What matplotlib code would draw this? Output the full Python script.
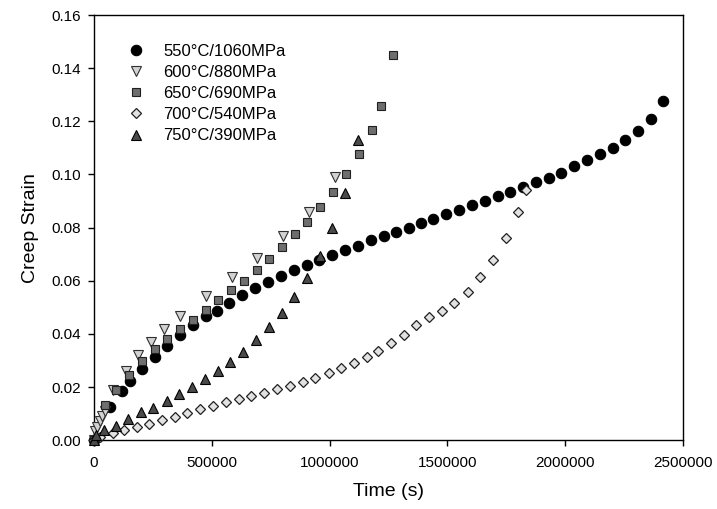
import matplotlib
matplotlib.use('Agg')
import matplotlib.pyplot as plt
import numpy as np
from matplotlib.ticker import FormatStrFormatter

plt.rcParams['font.family'] = ['Liberation Sans', 'DejaVu Sans']

# 550C / 1060MPa
t_550 = [0, 68000, 120000, 153000, 202600, 258000, 311000, 365000, 420500, 474000,
         521000, 575000, 629000, 682500, 740600, 794000, 849000, 903500, 957000, 1012000,
         1066000, 1120000, 1175000, 1229000, 1283000, 1336000, 1389000, 1441000, 1495000,
         1550000, 1604000, 1658000, 1713000, 1767000, 1821000, 1876000, 1930000, 1984000,
         2039000, 2093000, 2146000, 2201000, 2254000, 2308000, 2363000, 2417000]
e_550 = [0.0, 0.0126, 0.0187, 0.0224, 0.0268, 0.0315, 0.0356, 0.0397, 0.0432, 0.0466,
         0.0488, 0.0518, 0.0546, 0.0574, 0.0595, 0.0618, 0.0640, 0.0660, 0.0679, 0.0697,
         0.0717, 0.0732, 0.0752, 0.0767, 0.0785, 0.0800, 0.0817, 0.0833, 0.0850,
         0.0865, 0.0884, 0.0900, 0.0918, 0.0934, 0.0954, 0.0971, 0.0988, 0.1004,
         0.1031, 0.1053, 0.1077, 0.1100, 0.1129, 0.1164, 0.1209, 0.1277]

# 600C / 880MPa
t_600 = [0, 4000, 14000, 25500, 35000, 45000, 82000, 134700, 188000, 242000, 297000,
         365000, 474500, 585000, 692000, 804000, 913000, 1022000]
e_600 = [0.0, 0.0036, 0.0051, 0.0074, 0.0092, 0.0111, 0.0189, 0.0259, 0.0322, 0.0371, 0.0417,
         0.0469, 0.0542, 0.0614, 0.0686, 0.0768, 0.0860, 0.0990]

# 650C / 690MPa
t_650 = [0, 45500, 93500, 148700, 202600, 258000, 311000, 365000, 419000, 474500,
         528000, 581000, 637000, 691000, 745000, 800000, 852500, 906000, 960000,
         1015000, 1070000, 1127000, 1178000, 1218000, 1271000]
e_650 = [0.0, 0.0134, 0.0189, 0.0247, 0.0297, 0.0342, 0.0380, 0.0419, 0.0453, 0.0491,
         0.0526, 0.0564, 0.0601, 0.0642, 0.0683, 0.0727, 0.0775, 0.0823, 0.0878,
         0.0936, 0.1001, 0.1076, 0.1169, 0.1257, 0.1450]

# 700C / 540MPa
t_700 = [0, 25500, 79400, 127400, 181400, 235000, 289000, 344000, 397000, 451000,
         504000, 561000, 615000, 668000, 723000, 777000, 833000, 887000, 940000, 997000,
         1050000, 1103000, 1160000, 1206000, 1262000, 1314000, 1368000, 1423000, 1477000,
         1529000, 1586000, 1640000, 1695000, 1748000, 1798000, 1832000]
e_700 = [0.0, 0.0013, 0.0026, 0.0038, 0.0050, 0.0061, 0.0076, 0.0089, 0.0103, 0.0116,
         0.0130, 0.0145, 0.0156, 0.0168, 0.0179, 0.0192, 0.0204, 0.0221, 0.0236, 0.0252,
         0.0271, 0.0291, 0.0312, 0.0337, 0.0365, 0.0397, 0.0434, 0.0465, 0.0486,
         0.0516, 0.0559, 0.0615, 0.0680, 0.0760, 0.0860, 0.0943]

# 750C / 390MPa
t_750 = [0, 8500, 42500, 93500, 145700, 198400, 252000, 308800, 360000, 416000, 470700,
         525500, 579000, 634000, 688000, 742000, 797000, 849600, 904000, 960000,
         1012000, 1066000, 1120000]
e_750 = [0.0, 0.0021, 0.0038, 0.0055, 0.0080, 0.0105, 0.0121, 0.0146, 0.0174, 0.0199, 0.0229,
         0.0259, 0.0294, 0.0334, 0.0377, 0.0425, 0.0478, 0.0538, 0.0610, 0.0694,
         0.0799, 0.0929, 0.1129]

fig = plt.figure(figsize=(7.17, 5.09), dpi=100)
ax = fig.add_axes([0.131, 0.135, 0.8216, 0.8355])

ax.plot(t_550, e_550, 'o', ms=7.5, mfc='black', mec='black', mew=0.8, ls='none',
        label='550\u00b0C/1060MPa', clip_on=False, zorder=3)
ax.plot(t_600, e_600, 'v', ms=7, mfc='#d2d2d2', mec='#303030', mew=0.8, ls='none',
        label='600\u00b0C/880MPa', clip_on=False, zorder=3)
ax.plot(t_650, e_650, 's', ms=6, mfc='#6e6e6e', mec='#202020', mew=0.8, ls='none',
        label='650\u00b0C/690MPa', clip_on=False, zorder=3)
ax.plot(t_700, e_700, 'D', ms=5.5, mfc='#e2e2e2', mec='#202020', mew=0.9, ls='none',
        label='700\u00b0C/540MPa', clip_on=False, zorder=3)
ax.plot(t_750, e_750, '^', ms=7.5, mfc='#4a4a4a', mec='black', mew=0.8, ls='none',
        label='750\u00b0C/390MPa', clip_on=False, zorder=3)

ax.set_xlim(0, 2500000)
ax.set_ylim(0, 0.16)
ax.set_xticks(np.arange(0, 2500001, 500000))
ax.set_yticks(np.arange(0, 0.161, 0.02))
ax.yaxis.set_major_formatter(FormatStrFormatter('%.2f'))
ax.xaxis.set_major_formatter(FormatStrFormatter('%d'))
ax.tick_params(direction='out', length=4.5, width=1, labelsize=11)
ax.tick_params(axis='x', pad=7)
ax.tick_params(axis='y', pad=5)
for s in ax.spines.values():
    s.set_linewidth(1)

ax.set_xlabel('Time (s)', fontsize=14, labelpad=9)
ax.set_ylabel('Creep Strain', fontsize=14, labelpad=9)

ax.legend(loc='upper left', frameon=False, fontsize=12, bbox_to_anchor=(0.032, 0.948),
          handletextpad=0.63, labelspacing=0.37, borderaxespad=0, borderpad=0.4)

plt.savefig('out.png', dpi=100)
